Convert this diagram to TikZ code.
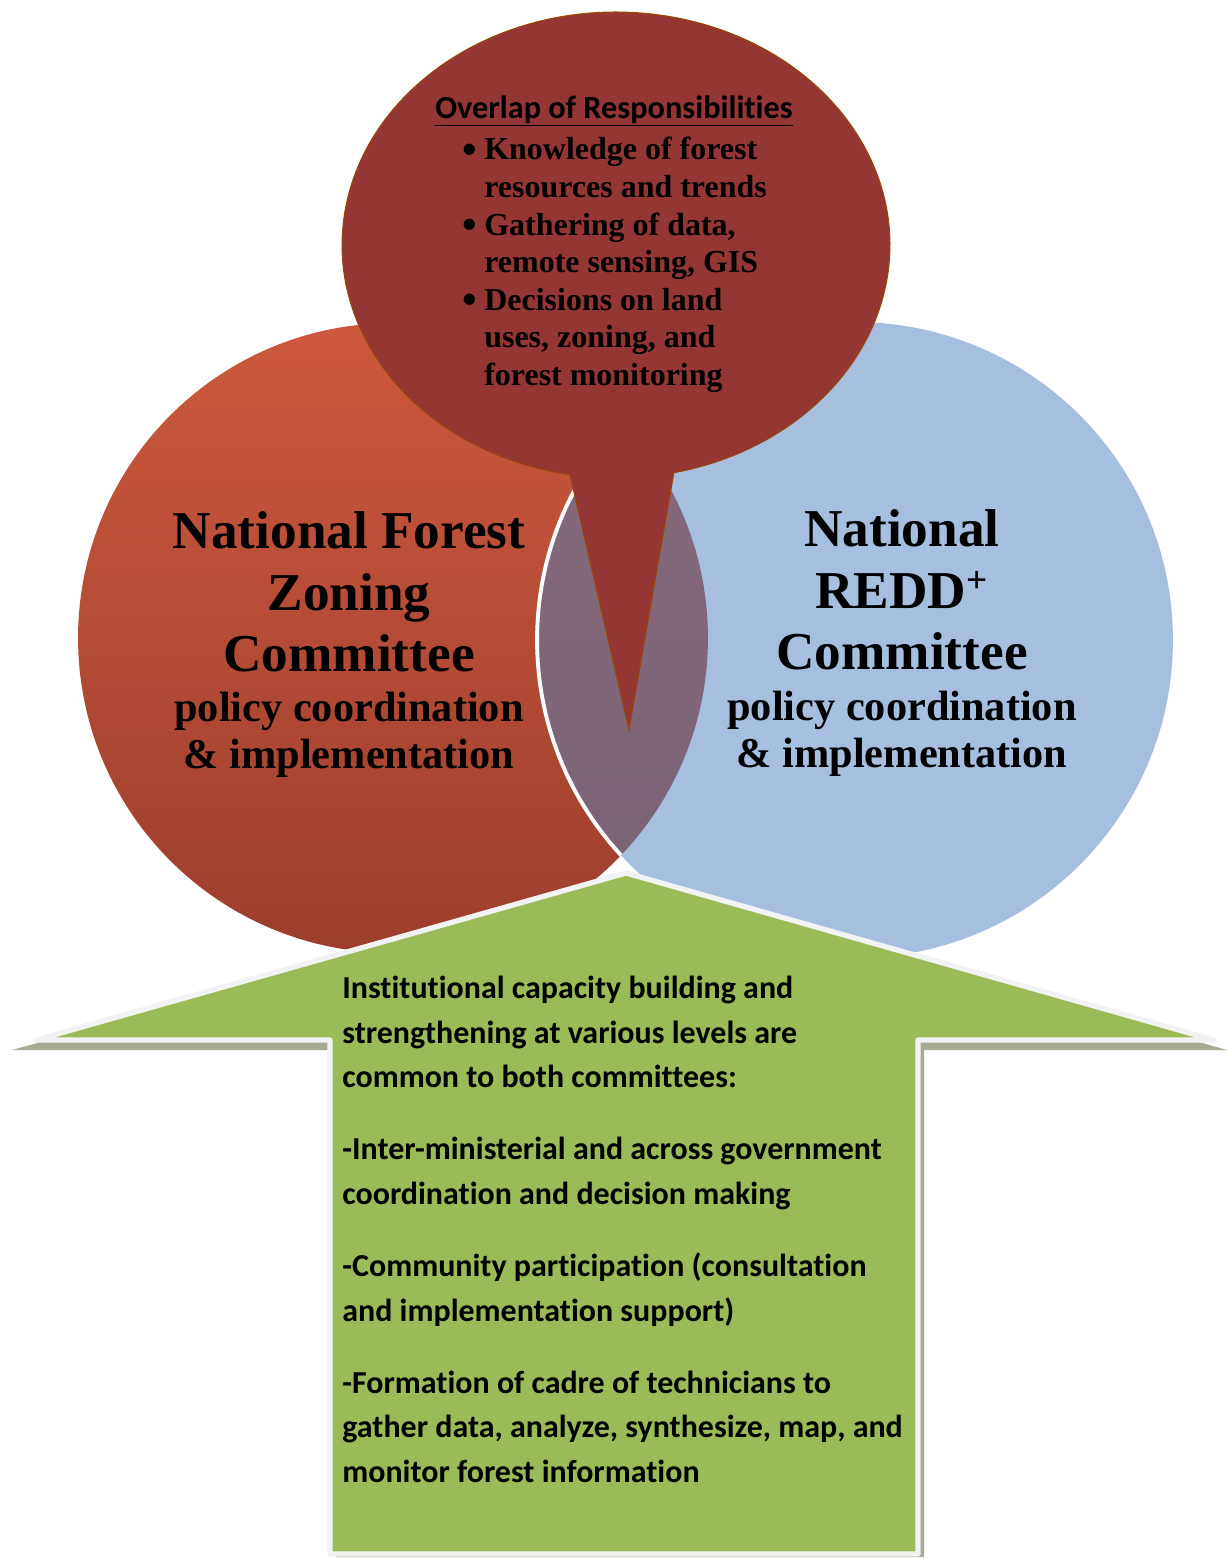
\documentclass[tikz,border=0pt]{standalone}
\usepackage{fontspec}
\setmainfont{Liberation Serif}
\newfontfamily\calibrifont[Ligatures=NoCommon]{Carlito}
\usetikzlibrary{calc,math,positioning}

\definecolor{zoningtop}{RGB}{205,89,61}
\definecolor{zoningbot}{RGB}{156,62,45}
\definecolor{reddblue}{RGB}{167,191,222}
\definecolor{lenstop}{RGB}{136,107,124}
\definecolor{lensbot}{RGB}{121,98,118}
\definecolor{bubblered}{RGB}{148,54,52}
\definecolor{bubbleedge}{RGB}{152,72,6}
\definecolor{arrowgreen}{RGB}{155,187,89}
\definecolor{arrowedge}{RGB}{242,242,242}
\definecolor{arrowshadow}{RGB}{165,172,147}

\newcommand{\dutybullet}{\makebox[12.5pt][l]{\raisebox{-2pt}{\scalebox{1.3}{\textbullet}}}}

\begin{document}
\begin{tikzpicture}[x=0.02cm, y=-0.02cm,
 title text/.style={font=\bfseries\fontsize{30.3}{35}\selectfont, align=center, inner sep=0pt},
 duty text/.style={font=\bfseries\fontsize{24.1}{26.6}\selectfont, align=center, inner sep=0pt},
 overlap text/.style={font=\bfseries\fontsize{18.2}{21.4}\selectfont, align=left, inner sep=0pt},
 capacity text/.style={font=\calibrifont\bfseries\fontsize{18.2}{25.3}\selectfont, align=left, inner sep=0pt}]

 \useasboundingbox (0,0) rectangle (1227,1558);

 \tikzmath{
   \rl = 6.3;   % zoning circle, cm
   \rr = 6.36;  % REDD circle, cm
   \ea = 5.48;
   \eb = 4.66;
 }
 \coordinate (L) at (393,638);
 \coordinate (R) at (855,640);
 \coordinate (E) at (616,245);
 \coordinate (T) at (629,730);   % tip of the call-out
 \coordinate (A) at (626,873);   % tip of the arrow

 % the two committees
 \shade [top color=zoningtop, bottom color=zoningbot] (L) circle [radius=\rl cm];
 \fill [reddblue] (R) circle [radius=\rr cm];
 \begin{scope}
   \clip (L) circle [radius=\rl cm];
   \shade [top color=lenstop, bottom color=lensbot] (R) circle [radius=\rr cm];
   \draw [white, line width=2.2pt] (R) circle [radius=\rr cm];
 \end{scope}

 % call-out
 \filldraw [fill=bubblered, draw=bubbleedge, line width=0.6pt]
   ([shift={(260.3:\ea cm and \eb cm)}]E) arc [start angle=260.3, end angle=-77.8, x radius=\ea cm, y radius=\eb cm]
   -- (T) -- cycle;

 % arrow
 \fill [arrowshadow] (12,1050) -- (626,880) -- (1227,1050) -- (924,1050)
   -- (924,1557) -- (336,1557) -- (336,1050) -- cycle;
 \filldraw [fill=arrowgreen, draw=arrowedge, line width=3pt, line join=round]
   (330,1040) -- (36,1040) -- (A) -- (1214,1040) -- (918,1040) -- (918,1554) -- (330,1554) -- cycle;

 \node [title text] (zoningtitle) at (349,592) {National Forest\\Zoning\\Committee};
 \node [duty text] (zoningduty) at (349,735) {policy coordination\\\& implementation};
 \node [title text] (reddtitle) at (902,590) {National\\REDD\textsuperscript{+}\\Committee};
 \node [duty text] (reddduty) at (902,734) {policy coordination\\\& implementation};

 \node [font=\calibrifont\bfseries\fontsize{18.4}{21}\selectfont, inner sep=0pt] (overlaphead)
   at (614,111) {\underline{Overlap of Responsibilities}};
 \node [overlap text, anchor=north west] (overlaplist) at (462,137)
   {\dutybullet Knowledge of forest\\
    \hspace*{12.5pt}resources and trends\\
    \dutybullet Gathering of data,\\
    \hspace*{12.5pt}remote sensing, GIS\\
    \dutybullet Decisions on land\\
    \hspace*{12.5pt}uses, zoning, and\\
    \hspace*{12.5pt}forest monitoring};

 \node [capacity text, anchor=north west] (capacity) at (342,976)
   {Institutional capacity building and\\
    strengthening at various levels are\\
    common to both committees:\\[15.8pt]
    -Inter-ministerial and across government\\
    coordination and decision making\\[15.8pt]
    -Community participation (consultation\\
    and implementation support)\\[15.8pt]
    -Formation of cadre of technicians to\\
    gather data, analyze, synthesize, map, and\\
    monitor forest information};

\end{tikzpicture}
\end{document}
